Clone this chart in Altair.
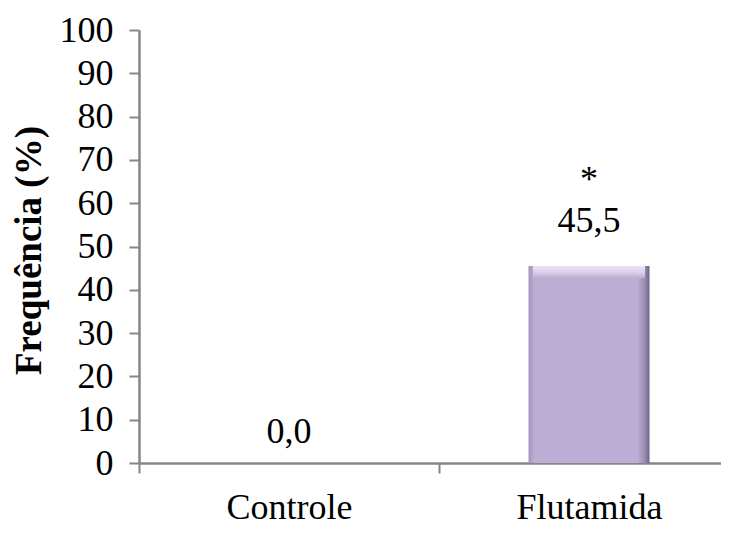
import altair as alt
import pandas as pd

categories = ["Controle", "Flutamida"]
values = [0.0, 45.5]
significance = ["", "*"]

df = pd.DataFrame({
    "grupo": categories,
    "freq": values,
    "sig": significance,
    "idx": list(range(len(categories))),
})

FONT = "Liberation Serif"
AXIS_COLOR = "#868686"

label_expr = " : ".join(
    [f"datum.value == {i + 0.5} ? '{c}'" for i, c in enumerate(categories)]
) + " : ''"

x_enc = alt.X(
    "pos:Q",
    scale=alt.Scale(domain=[0, 582 / 300], nice=False, zero=False, padding=0),
    axis=alt.Axis(
        values=[0, 0.5, 1, 1.5],
        labelExpr=label_expr,
        title=None,
        grid=False,
        domainColor=AXIS_COLOR,
        domainWidth=2.5,
        tickColor=AXIS_COLOR,
        tickWidth=2,
        tickSize=10,
        tickOpacity={"condition": {"test": "datum.value % 1 == 0", "value": 1}, "value": 0},
        labelFont=FONT,
        labelFontSize=36,
        labelColor="black",
        labelBaseline="alphabetic",
        labelPadding=45,
        labelFlush=False,
        labelOverlap=False,
    ),
)

y_enc = alt.Y(
    "freq:Q",
    scale=alt.Scale(domain=[0, 100], nice=False),
    axis=alt.Axis(
        values=list(range(0, 101, 10)),
        title="Frequência (%)",
        titleFont=FONT,
        titleFontSize=37,
        titleFontWeight="bold",
        titleColor="black",
        titleAngle=-90,
        titleAlign="center",
        titleBaseline="alphabetic",
        titleX=-99,
        titleY=220,
        grid=False,
        domainColor=AXIS_COLOR,
        domainWidth=2.5,
        tickColor=AXIS_COLOR,
        tickWidth=2,
        tickSize=10,
        labelFont=FONT,
        labelFontSize=36,
        labelColor="black",
        labelPadding=16,
        labelBaseline="middle",
    ),
)

base = alt.Chart(df).transform_calculate(
    pos="datum.idx + 0.5",
    label="(datum.sig ? datum.sig + '\\n' : '') + replace(format(datum.freq, '.1f'), '.', ',')",
)

bar_fill = alt.Gradient(
    gradient="linear",
    x1=0, y1=0, x2=1, y2=0,
    stops=[
        alt.GradientStop(offset=0.0, color="#a595bd"),
        alt.GradientStop(offset=0.05, color="#bbadd3"),
        alt.GradientStop(offset=0.9, color="#bcaed4"),
        alt.GradientStop(offset=0.96, color="#9c8cb3"),
        alt.GradientStop(offset=1.0, color="#6f6283"),
    ],
)

bars = base.mark_bar(size=121, orient="vertical", fill=bar_fill).encode(x=x_enc, y=y_enc)

highlight = base.transform_filter("datum.freq > 0").mark_tick(
    orient="horizontal", size=112, thickness=12, yOffset=6,
    fill=alt.Gradient(
        gradient="linear", x1=0, y1=0, x2=0, y2=1,
        stops=[
            alt.GradientStop(offset=0.0, color="#ece4f8"),
            alt.GradientStop(offset=0.5, color="#dcd2ec"),
            alt.GradientStop(offset=1.0, color="#bcaed4"),
        ],
    ),
    opacity=1,
).encode(x="pos:Q", y="freq:Q")

labels = base.mark_text(
    font=FONT, fontSize=36, color="black", baseline="alphabetic", align="center",
    lineBreak="\n", lineHeight=41,
    dy={"expr": "datum.sig ? -75 : -20"},
).encode(x="pos:Q", y="freq:Q", text="label:N")

chart = alt.layer(bars, highlight, labels).properties(
    width=582,
    height=433,
    background="white",
    autosize=alt.AutoSizeParams(type="none"),
    padding={"left": 131, "top": 22, "right": 0, "bottom": 63},
).configure_view(stroke=None)

chart.save("out.html", embed_options={"renderer": "svg", "actions": False})
